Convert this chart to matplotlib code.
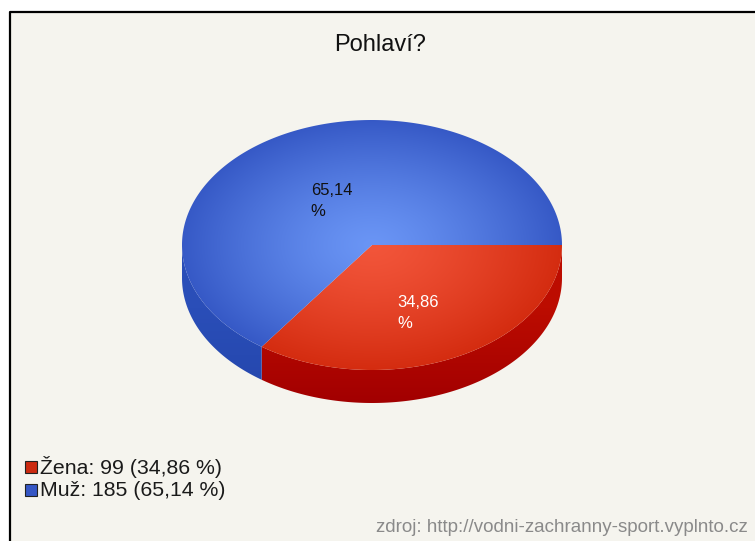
import numpy as np
import matplotlib
matplotlib.use("Agg")
import matplotlib.pyplot as plt
from matplotlib.patches import Polygon, Rectangle
from matplotlib.colors import to_rgb

# ---- data ----
title = "Pohlaví?"
categories = ["Žena", "Muž"]
counts = [99, 185]
top_inner = ["#f2553a", "#6a95f5"]
top_outer = ["#d42c10", "#3659c6"]
side_top = ["#bc0c00", "#2a4eb8"]
side_bot = ["#a20000", "#2446ac"]
legend_colors = ["#cc2a10", "#3556c4"]
label_colors = ["white", "#111111"]
source = "zdroj: http://vodni-zachranny-sport.vyplnto.cz"

W, H = 755, 541
fig = plt.figure(figsize=(W / 100, H / 100), dpi=100)
fig.patch.set_facecolor("white")
ax = fig.add_axes([0, 0, 1, 1])
ax.set_xlim(0, W)
ax.set_ylim(H, 0)
ax.axis("off")

plt.rcParams["font.family"] = ["Liberation Sans", "DejaVu Sans"]

# background panel with left/top border
ax.add_patch(Rectangle((10, 12), W, H, facecolor="#f5f4ee", edgecolor="none", zorder=0))
ax.plot([10, 10, W], [H, 12, 12], color="black", lw=1.6, zorder=1)

cx, cy, rx, ry, depth = 372, 245, 190, 125, 33

total = sum(counts)
fracs = [c / total for c in counts]
pcts = [100 * f for f in fracs]

yy, xx = np.mgrid[0:H, 0:W] + 0.5


def lerp(c0, c1, t):
    c0 = np.array(to_rgb(c0))
    c1 = np.array(to_rgb(c1))
    return c0[None, None, :] * (1 - t[..., None]) + c1[None, None, :] * t[..., None]


rd = np.sqrt(((xx - cx) / rx) ** 2 + ((yy - cy) / ry) ** 2)
rd = np.clip(rd, 0, 1)

start = 0.0
angles = []
for f in fracs:
    a0 = start
    a1 = start + f * 2 * np.pi
    angles.append((a0, a1))
    start = a1

# sides (front half only)
for i, (a0, a1) in enumerate(angles):
    s0, s1 = max(a0, 0), min(a1, np.pi)
    if s1 <= s0:
        continue
    t = np.linspace(s0, s1, 200)
    top = np.column_stack([cx + rx * np.cos(t), cy + ry * np.sin(t)])
    bot = top[::-1] + [0, depth]
    poly = Polygon(np.vstack([top, bot]), closed=True, facecolor="none", edgecolor="none")
    ax.add_patch(poly)
    img = lerp(side_top[i], side_bot[i], np.clip((yy - cy - ry * 0.5) / (ry * 0.5 + depth), 0, 1))
    im = ax.imshow(img, extent=[0, W, H, 0], zorder=2, interpolation="bilinear")
    im.set_clip_path(poly)

# top faces
for i, (a0, a1) in enumerate(angles):
    t = np.linspace(a0, a1, 400)
    pts = np.vstack([[cx, cy], np.column_stack([cx + rx * np.cos(t), cy + ry * np.sin(t)])])
    poly = Polygon(pts, closed=True, facecolor="none", edgecolor="none")
    ax.add_patch(poly)
    img = lerp(top_inner[i], top_outer[i], rd ** 1.3)
    im = ax.imshow(img, extent=[0, W, H, 0], zorder=3, interpolation="bilinear")
    im.set_clip_path(poly)
ax.set_xlim(0, W)
ax.set_ylim(H, 0)

# slice labels
for i, (a0, a1) in enumerate(angles):
    m = (a0 + a1) / 2
    lx = cx + 0.5 * rx * np.cos(m) + 3
    ly = cy + 0.5 * ry * np.sin(m) + 12
    ax.text(lx, ly, f"{pcts[i]:.2f}".replace(".", ",") + "\n%", color=label_colors[i],
            fontsize=12, ha="center", va="center", multialignment="left",
            linespacing=1.5, zorder=5)

# title
ax.text(380, 45, title, fontsize=17, ha="center", va="center", color="#111111", zorder=5)

# legend
for i, cat in enumerate(categories):
    y = 467 + i * 23
    ax.add_patch(Rectangle((25, y - 6), 12, 12, facecolor=legend_colors[i], edgecolor="#222222",
                           lw=0.8, zorder=5))
    ax.text(40, y, f"{cat}: {counts[i]} ({pcts[i]:.2f} %)".replace(".", ","), fontsize=15.3,
            ha="left", va="center", color="#1a1a1a", zorder=5)

# source
ax.text(748, 527, source, fontsize=13.5, ha="right", va="center", color="#8a8a8a", zorder=5)

fig.savefig("out.png", dpi=100, facecolor="white")
